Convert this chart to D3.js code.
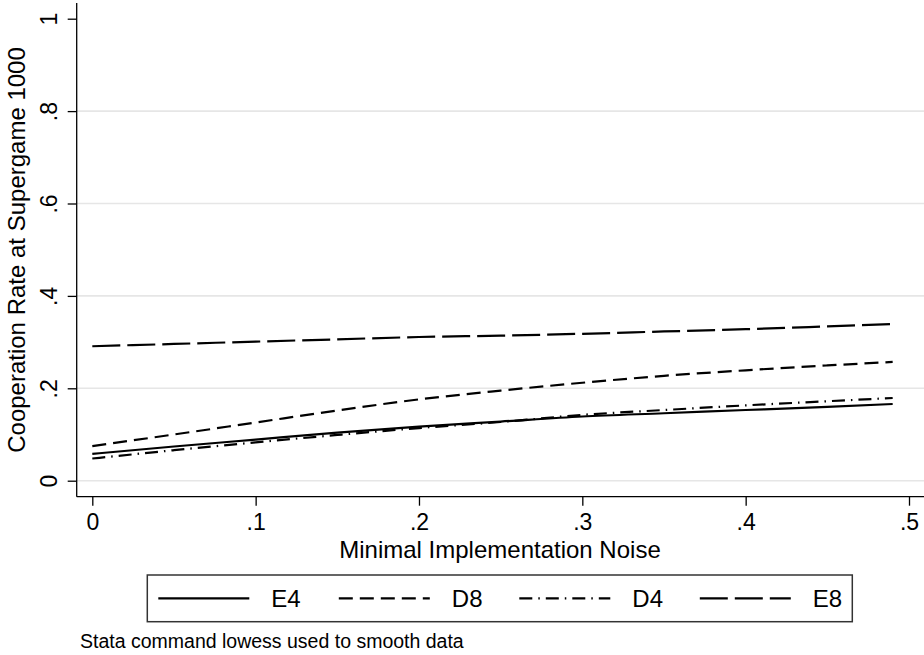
<!DOCTYPE html>
<html>
<head>
<meta charset="utf-8">
<script src="https://cdn.jsdelivr.net/npm/d3@7"></script>
<style>
  html, body { margin: 0; padding: 0; background: #fff; }
  svg { display: block; font-family: "Liberation Sans", Arial, Helvetica, sans-serif; }
</style>
</head>
<body>
<svg id="chart" width="924" height="655"></svg>
<script>
// Smoothed (lowess) cooperation rates by treatment, sampled along the noise axis
const noise = [0, 0.05, 0.1, 0.15, 0.2, 0.25, 0.3, 0.35, 0.4, 0.45, 0.49];
const seriesE4 = [0.058, 0.074, 0.089, 0.104, 0.117, 0.128, 0.139, 0.146, 0.153, 0.160, 0.166];
const seriesD8 = [0.075, 0.100, 0.126, 0.152, 0.176, 0.195, 0.212, 0.227, 0.239, 0.2495, 0.257];
const seriesD4 = [0.048, 0.066, 0.083, 0.099, 0.114, 0.127, 0.1425, 0.153, 0.163, 0.172, 0.179];
const seriesE8 = [0.291, 0.296, 0.301, 0.306, 0.311, 0.314, 0.318, 0.323, 0.328, 0.334, 0.339];
const seriesNames = ["E4", "D8", "D4", "E8"];
const xTicks = [0, 0.1, 0.2, 0.3, 0.4, 0.5];
const yTicks = [0, 0.2, 0.4, 0.6, 0.8, 1];
const gridTicks = [0, 0.2, 0.4, 0.6, 0.8];

const svg = d3.select("#chart");
const fmt = v => (v === 0 ? "0" : v === 1 ? "1" : String(v).replace(/^0/, ""));

const x = d3.scaleLinear().domain([0, 0.5]).range([92.3, 909]);
const y = d3.scaleLinear().domain([0, 1]).range([480.7, 18.7]);

const axisX = 76.7, axisY = 496.7;

// horizontal gridlines
svg.append("g").selectAll("line").data(gridTicks).join("line")
  .attr("x1", axisX).attr("x2", 924)
  .attr("y1", d => y(d)).attr("y2", d => y(d))
  .attr("stroke", "#e6e6e6").attr("stroke-width", 1.6);

// y axis
const gy = svg.append("g").attr("transform", `translate(${axisX},0)`)
  .call(d3.axisLeft(y).tickValues(yTicks).tickFormat(fmt).tickSize(9).tickSizeOuter(0));
gy.select(".domain").remove();
gy.selectAll(".tick line").attr("stroke", "#000").attr("stroke-width", 1.3);
gy.selectAll(".tick text")
  .attr("x", 0).attr("dy", 0)
  .attr("transform", "translate(-19.5,0) rotate(-90)")
  .attr("text-anchor", "middle")
  .attr("fill", "#000")
  .style("font-size", "23px");
gy.append("line").attr("x1", 0).attr("x2", 0).attr("y1", 3).attr("y2", axisY)
  .attr("stroke", "#000").attr("stroke-width", 1.3);

// x axis
const gx = svg.append("g").attr("transform", `translate(0,${axisY})`)
  .call(d3.axisBottom(x).tickValues(xTicks).tickFormat(fmt).tickSize(9).tickSizeOuter(0));
gx.select(".domain").remove();
gx.selectAll(".tick line").attr("stroke", "#000").attr("stroke-width", 1.3);
gx.selectAll(".tick text")
  .attr("y", 33).attr("dy", 0)
  .attr("fill", "#000")
  .style("font-size", "23px");
gx.append("line").attr("x1", axisX).attr("x2", 924).attr("y1", 0).attr("y2", 0)
  .attr("stroke", "#000").attr("stroke-width", 1.3);

// axis titles
svg.append("text")
  .attr("transform", "translate(25,250) rotate(-90)")
  .attr("text-anchor", "middle").attr("fill", "#000")
  .style("font-size", "24px")
  .text("Cooperation Rate at Supergame 1000");
svg.append("text")
  .attr("x", 500).attr("y", 558)
  .attr("text-anchor", "middle").attr("fill", "#000")
  .style("font-size", "24px")
  .text("Minimal Implementation Noise");

// series
const dashes = { E4: null, D8: "14,7", D4: "13,6,1.5,6", E8: "28,7" };
const valuesBy = { E4: seriesE4, D8: seriesD8, D4: seriesD4, E8: seriesE8 };
const line = d3.line().x(d => x(d[0])).y(d => y(d[1])).curve(d3.curveMonotoneX);

svg.append("g").selectAll("path").data(seriesNames).join("path")
  .attr("d", n => line(noise.map((v, i) => [v, valuesBy[n][i]])))
  .attr("fill", "none")
  .attr("stroke", "#000")
  .attr("stroke-width", 2.2)
  .attr("stroke-dasharray", n => dashes[n]);

// legend
const legend = svg.append("g");
legend.append("rect")
  .attr("x", 147.3).attr("y", 575).attr("width", 705).attr("height", 46.7)
  .attr("fill", "#fff").attr("stroke", "#333").attr("stroke-width", 1.5);
const item = legend.selectAll("g.item").data(seriesNames).join("g")
  .attr("class", "item")
  .attr("transform", (d, i) => `translate(${158.3 + i * 180.5},598.3)`);
item.append("line")
  .attr("x1", 0).attr("x2", 91).attr("y1", 0).attr("y2", 0)
  .attr("stroke", "#000").attr("stroke-width", 2.2)
  .attr("stroke-dasharray", d => dashes[d]);
item.append("text")
  .attr("x", 113).attr("y", 9)
  .attr("fill", "#000")
  .style("font-size", "24px")
  .text(d => d);

// note
svg.append("text")
  .attr("x", 80).attr("y", 648)
  .attr("fill", "#000")
  .style("font-size", "19.5px")
  .text("Stata command lowess used to smooth data");
</script>
</body>
</html>
